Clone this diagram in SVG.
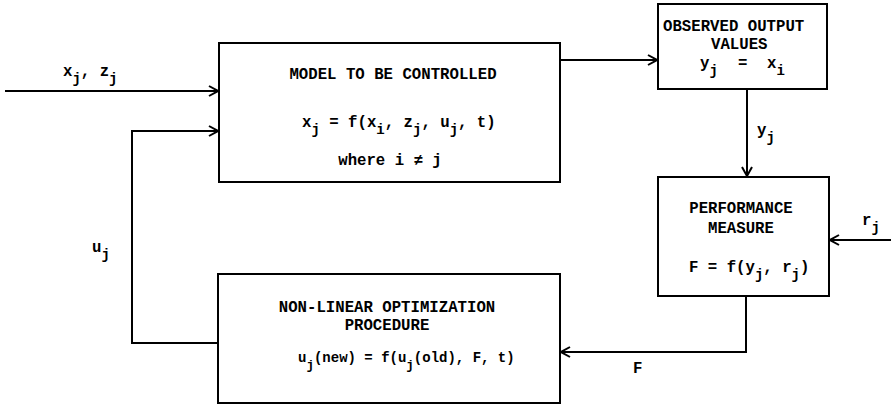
<svg xmlns="http://www.w3.org/2000/svg" width="891" height="405" viewBox="0 0 891 405">
<defs>
<marker id="arr" markerUnits="userSpaceOnUse" viewBox="0 0 10 12" refX="10" refY="6" markerWidth="10" markerHeight="12" orient="auto">
<path d="M1,1 L10,6 L1,11" fill="none" stroke="#000" stroke-width="2"/>
</marker>
<style>
.box{fill:#fff;stroke:#000;stroke-width:2}
.ln{fill:none;stroke:#000;stroke-width:2}
text{font-family:"Liberation Mono","DejaVu Sans Mono",monospace;font-size:15.7px;font-weight:bold;fill:#000}
.c{text-anchor:middle}
.s{font-size:14px}
.sm{font-size:14px}
.sm .s{font-size:12.5px}
</style>
</defs>
<rect width="891" height="405" fill="#fff"/>
<g id="connectors">
<path class="ln" d="M5,91 H218" marker-end="url(#arr)"/>
<path class="ln" d="M218,343 H132 V131 H218" marker-end="url(#arr)"/>
<path class="ln" d="M560,60 H657" marker-end="url(#arr)"/>
<path class="ln" d="M747,89 V176" marker-end="url(#arr)"/>
<path class="ln" d="M891,240 H830" marker-end="url(#arr)"/>
<path class="ln" d="M746,296 V352 H561" marker-end="url(#arr)"/>
<text x="63" y="76">x<tspan class="s" dy="7">j</tspan><tspan dy="-7">, z</tspan><tspan class="s" dy="7">j</tspan></text>
<text x="92" y="252">u<tspan class="s" dy="7">j</tspan></text>
<text x="757" y="135">y<tspan class="s" dy="7">j</tspan></text>
<text x="862" y="225">r<tspan class="s" dy="7">j</tspan></text>
<text x="633" y="373">F</text>
</g>
<g id="model">
<rect class="box" x="219" y="43" width="341" height="139"/>
<text class="c" x="393" y="79">MODEL TO BE CONTROLLED</text>
<text x="302" y="127">x<tspan class="s" dy="7">j</tspan><tspan dy="-7"> = f(x</tspan><tspan class="s" dy="7">i</tspan><tspan dy="-7">, z</tspan><tspan class="s" dy="7">j</tspan><tspan dy="-7">, u</tspan><tspan class="s" dy="7">j</tspan><tspan dy="-7">, t)</tspan></text>
<text class="c" x="390" y="165">where i ≠ j</text>
</g>
<g id="observed">
<rect class="box" x="658" y="4" width="169" height="85"/>
<text x="663" y="31">OBSERVED OUTPUT</text>
<text x="711" y="49">VALUES</text>
<text x="700" y="68">y<tspan class="s" dy="7">j</tspan></text>
<text x="738" y="68">=</text>
<text x="767" y="68">x<tspan class="s" dy="7">i</tspan></text>
</g>
<g id="performance">
<rect class="box" x="658" y="177" width="171" height="119"/>
<text class="c" x="741" y="213">PERFORMANCE</text>
<text class="c" x="741" y="233">MEASURE</text>
<text x="689" y="272">F = f(y<tspan class="s" dy="7">j</tspan><tspan dy="-7">, r</tspan><tspan class="s" dy="7">j</tspan><tspan dy="-7">)</tspan></text>
</g>
<g id="optimization">
<rect class="box" x="218" y="274" width="342" height="129"/>
<text class="c" x="387" y="312">NON-LINEAR OPTIMIZATION</text>
<text class="c" x="387" y="330">PROCEDURE</text>
<text class="sm" x="298" y="362">u<tspan class="s" dy="7">j</tspan><tspan dy="-7">(new) = f(u</tspan><tspan class="s" dy="7">j</tspan><tspan dy="-7">(old), F, t)</tspan></text>
</g>
</svg>
